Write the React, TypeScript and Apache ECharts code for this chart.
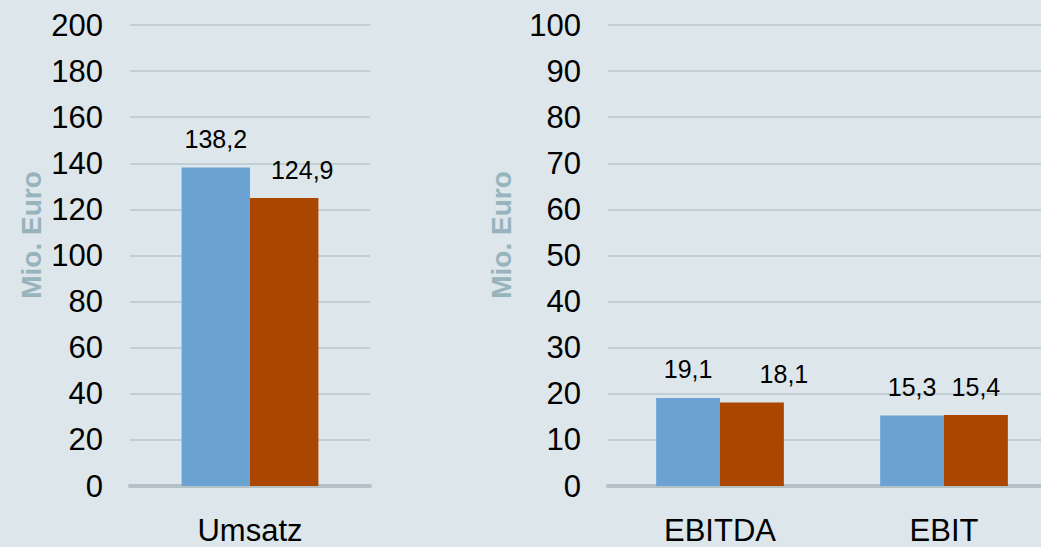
import React, { useEffect, useRef } from "react";
import * as echarts from "echarts";

const leftCategories = ["Umsatz"];
const rightCategories = ["EBITDA", "EBIT"];
const leftBlue = [138.2];
const leftOrange = [124.9];
const rightBlue = [19.1, 15.3];
const rightOrange = [18.1, 15.4];
const axisTitle = "Mio. Euro";

const BLUE = "#6aa2d2";
const ORANGE = "#aa4600";
const BG = "#dce6eb";
const FONT = "Liberation Sans, Arial, sans-serif";

export default function App() {
  const ref = useRef<HTMLDivElement>(null);
  useEffect(() => {
    document.body.style.margin = "0";
    const chart = echarts.init(ref.current!, null, { renderer: "svg" });
    const fmt = (p: any) => Number(p.value).toFixed(1).replace(".", ",");
    const label = (offset?: number[]) => ({
      show: true,
      position: "top",
      distance: 16,
      color: "#000",
      fontSize: 25,
      fontFamily: FONT,
      formatter: fmt,
      ...(offset ? { offset } : {}),
    });
    const yAxisCommon = (max: number, interval: number, gi: number) => ({
      type: "value",
      gridIndex: gi,
      min: 0,
      max,
      interval,
      axisLine: { show: false },
      axisTick: { show: false },
      splitLine: { lineStyle: { color: "#b8c7ce", width: 1.5 } },
      axisLabel: { color: "#000", fontSize: 31, fontFamily: FONT, margin: 27 },
    });
    const xAxisCommon = (data: string[], gi: number) => ({
      type: "category",
      gridIndex: gi,
      data,
      axisLine: { lineStyle: { color: "#b3c1c7", width: 4 } },
      axisTick: { show: false },
      axisLabel: { color: "#000", fontSize: 31, fontFamily: FONT, margin: 29 },
    });
    chart.setOption({
      animation: false,
      backgroundColor: BG,
      grid: [
        { left: 130, top: 25, width: 240, height: 461 },
        { left: 608, top: 25, width: 448, height: 461 },
      ],
      xAxis: [xAxisCommon(leftCategories, 0), xAxisCommon(rightCategories, 1)],
      yAxis: [yAxisCommon(200, 20, 0), yAxisCommon(100, 10, 1)],
      series: [
        {
          type: "bar",
          xAxisIndex: 0,
          yAxisIndex: 0,
          data: leftBlue,
          itemStyle: { color: BLUE },
          barGap: "0%",
          barCategoryGap: "43%",
          label: label(),
        },
        {
          type: "bar",
          xAxisIndex: 0,
          yAxisIndex: 0,
          data: leftOrange.map((v) => ({ value: v, label: label([18, 0]) })),
          itemStyle: { color: ORANGE },
          barGap: "0%",
          barCategoryGap: "43%",
          label: label(),
        },
        {
          type: "bar",
          xAxisIndex: 1,
          yAxisIndex: 1,
          data: rightBlue,
          itemStyle: { color: BLUE },
          barGap: "0%",
          barCategoryGap: "43%",
          label: label(),
        },
        {
          type: "bar",
          xAxisIndex: 1,
          yAxisIndex: 1,
          data: rightOrange.map((v, i) => (i === 0 ? { value: v, label: label([32, 0]) } : v)),
          itemStyle: { color: ORANGE },
          barGap: "0%",
          barCategoryGap: "43%",
          label: label(),
        },
      ],
      graphic: [
        {
          type: "text",
          x: 31,
          y: 235,
          rotation: Math.PI / 2,
          style: {
            text: axisTitle,
            fill: "#97b4bc",
            font: `bold 28px ${FONT}`,
            align: "center",
            verticalAlign: "middle",
          },
        },
        {
          type: "text",
          x: 501,
          y: 235,
          rotation: Math.PI / 2,
          style: {
            text: axisTitle,
            fill: "#97b4bc",
            font: `bold 28px ${FONT}`,
            align: "center",
            verticalAlign: "middle",
          },
        },
      ],
    });
    return () => chart.dispose();
  }, []);
  return (
    <div style={{ width: 1041, height: 547, overflow: "hidden", position: "relative" }}>
      <div ref={ref} style={{ width: 1060, height: 547 }} />
    </div>
  );
}
